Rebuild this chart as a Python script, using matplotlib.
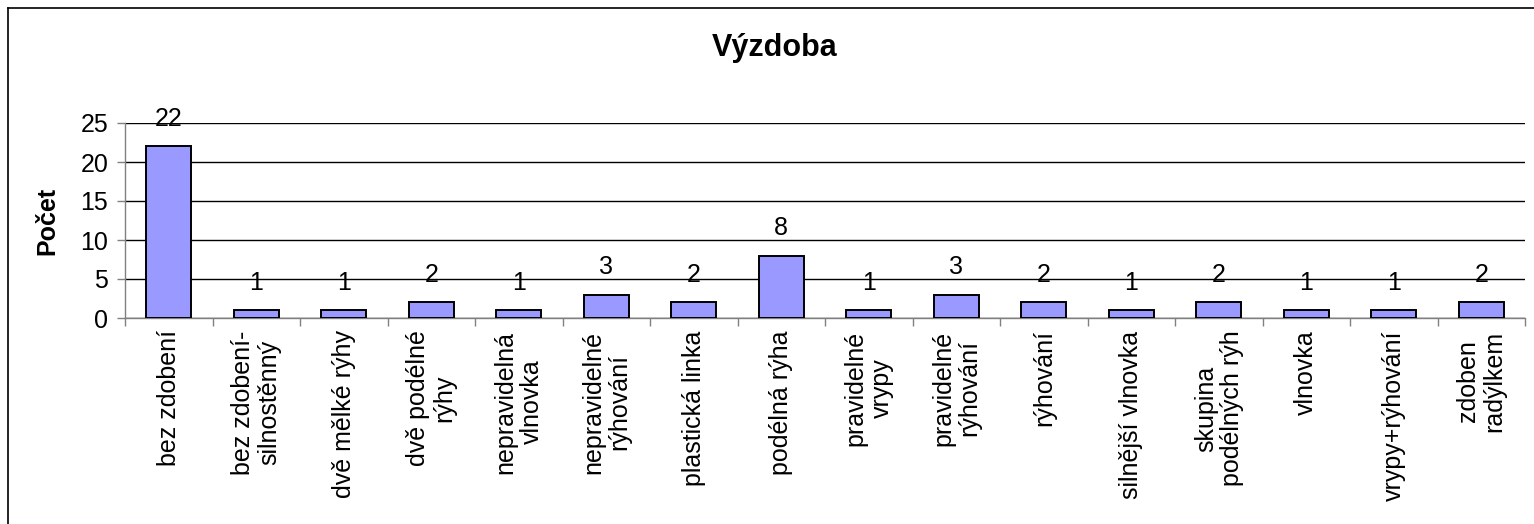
import matplotlib
matplotlib.use("Agg")
import matplotlib.pyplot as plt
import numpy as np
from matplotlib.lines import Line2D

plt.rcParams['font.family'] = ['Liberation Sans', 'DejaVu Sans']

categories = ["bez zdobení", "bez zdobení-\nsilnostěnný", "dvě mělké rýhy", "dvě podélné\nrýhy",
              "nepravidelná\nvlnovka", "nepravidelné\nrýhování", "plastická linka", "podélná rýha",
              "pravidelné\nvrypy", "pravidelné\nrýhování", "rýhování", "silnější vlnovka",
              "skupina\npodélných rýh", "vlnovka", "vrypy+rýhování", "zdoben\nradýlkem"]
values = [22, 1, 1, 2, 1, 3, 2, 8, 1, 3, 2, 1, 2, 1, 1, 2]
yticks = [0, 5, 10, 15, 20, 25]

W, H = 1534, 524
fig = plt.figure(figsize=(W / 100, H / 100), dpi=100)
# outer chart frame (only left and top edges fall inside the image)
fig.lines.append(Line2D([7.5 / W, 7.5 / W], [0, 1 - 8 / H], transform=fig.transFigure,
                        color='black', linewidth=1.2))
fig.lines.append(Line2D([7.5 / W, 1], [1 - 8 / H, 1 - 8 / H], transform=fig.transFigure,
                        color='black', linewidth=1.2))

ax = fig.add_axes([125 / W, 1 - 318 / H, (1525 - 125) / W, (318 - 123) / H])
x = np.arange(len(values))
ax.bar(x, values, width=0.51, color='#9999FF', edgecolor='black', linewidth=1.4, zorder=3)
for xi, v in zip(x, values):
    ax.annotate(str(v), (xi, v), xytext=(0, 11), textcoords='offset points',
                ha='center', va='bottom', fontsize=18, zorder=4)

ax.set_xlim(-0.5, len(values) - 0.5)
ax.set_ylim(0, 25)
ax.set_yticks(yticks)
ax.set_yticklabels([str(t) for t in yticks], fontsize=18)
ax.yaxis.grid(True, color='black', linewidth=1, zorder=0)
ax.set_axisbelow(True)

ax.set_xticks(np.arange(len(values) + 1) - 0.5)
ax.set_xticklabels([])
ax.set_xticks(x, minor=True)
ax.set_xticklabels(categories, minor=True, rotation=90, fontsize=18, ha='center', va='top',
                   multialignment='center', linespacing=1.1)
ax.tick_params(axis='x', which='major', length=6, direction='out', color='#808080', width=1)
ax.tick_params(axis='x', which='minor', length=0, pad=9)
ax.tick_params(axis='y', length=6, direction='out', pad=6, color='#808080', width=1)

for s in ['top', 'right']:
    ax.spines[s].set_visible(False)
for s in ['left', 'bottom']:
    ax.spines[s].set_color('#808080')
    ax.spines[s].set_linewidth(1)

ax.set_ylabel("Počet", fontsize=18, fontweight='bold', labelpad=15)
fig.text((713 + 837) / 2 / W, 1 - 48 / H, "Výzdoba", ha='center', va='center', fontsize=22,
         fontweight='bold')

fig.savefig("out.png", dpi=100)
